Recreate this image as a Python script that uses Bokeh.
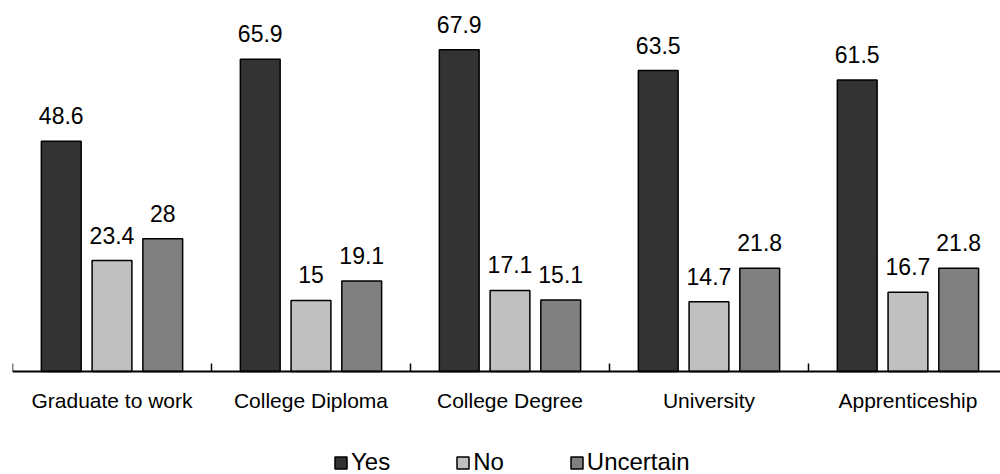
from bokeh.plotting import figure
from bokeh.models import (Range1d, FixedTicker, ColumnDataSource, LabelSet,
                          Legend, LegendItem)
from bokeh.core.properties import value
from bokeh.embed import file_html
from bokeh.resources import INLINE

# Survey answers by pathway (percent)
categories = ["Graduate to work", "College Diploma", "College Degree",
              "University", "Apprenticeship"]
series = ["Yes", "No", "Uncertain"]
yes_values = [48.6, 65.9, 67.9, 63.5, 61.5]
no_values = [23.4, 15, 17.1, 14.7, 16.7]
uncertain_values = [28, 19.1, 15.1, 21.8, 21.8]

colors = ["#333333", "#c0c0c0", "#808080"]
offsets = [-0.255, 0.0, 0.255]
bar_width = 0.2
FONT = "Liberation Sans"

# The frame fills the whole canvas; the category axis sits at y = 0 inside it
p = figure(frame_width=988, frame_height=474, output_backend="svg",
           toolbar_location=None,
           x_range=Range1d(0, 4.965), y_range=Range1d(-21.73, 78.27),
           min_border_left=12, min_border_right=0, min_border_top=0,
           min_border_bottom=0)
p.outline_line_color = None
p.xgrid.visible = False
p.ygrid.visible = False
p.yaxis.visible = False

# Category axis: labels at group centres, small ticks at group boundaries
centers = [i + 0.5 for i in range(len(categories))]
xaxis = p.xaxis[0]
xaxis.fixed_location = 0
xaxis.ticker = FixedTicker(ticks=centers,
                           minor_ticks=list(range(len(categories) + 1)))
xaxis.major_label_overrides = {c: name for c, name in zip(centers, categories)}
xaxis.major_tick_line_color = None
xaxis.minor_tick_line_color = "black"
xaxis.minor_tick_line_width = 1.5
xaxis.minor_tick_in = 8
xaxis.minor_tick_out = 0
xaxis.axis_line_color = "black"
xaxis.axis_line_width = 2
xaxis.major_label_text_font = FONT
xaxis.major_label_text_font_size = "21px"
xaxis.major_label_text_color = "black"
xaxis.major_label_standoff = 12

legend_items = []
for name, vals, color, off in zip(series, [yes_values, no_values, uncertain_values],
                                  colors, offsets):
    src = ColumnDataSource(dict(
        x=[c + off for c in centers],
        top=vals,
        label=[f"{v:g}" for v in vals],
    ))
    r = p.vbar(x="x", top="top", width=bar_width, source=src,
               fill_color=color, line_color="black", line_width=1.5)
    legend_items.append(LegendItem(label=name, renderers=[r]))
    p.add_layout(LabelSet(x="x", y="top", text="label", source=src,
                          text_align="center", text_baseline="alphabetic",
                          y_offset=17, text_font=value(FONT),
                          text_font_size=value("23px"), text_color="black"))

legend = Legend(items=legend_items, orientation="horizontal",
                location=(321, -2), glyph_width=15, glyph_height=15,
                label_standoff=3, spacing=65, padding=0, margin=0,
                border_line_color=None, background_fill_alpha=0,
                label_text_font=FONT, label_text_font_size="24px",
                label_text_color="black")
p.add_layout(legend, "center")

open("out.html", "w").write(file_html(p, INLINE))
